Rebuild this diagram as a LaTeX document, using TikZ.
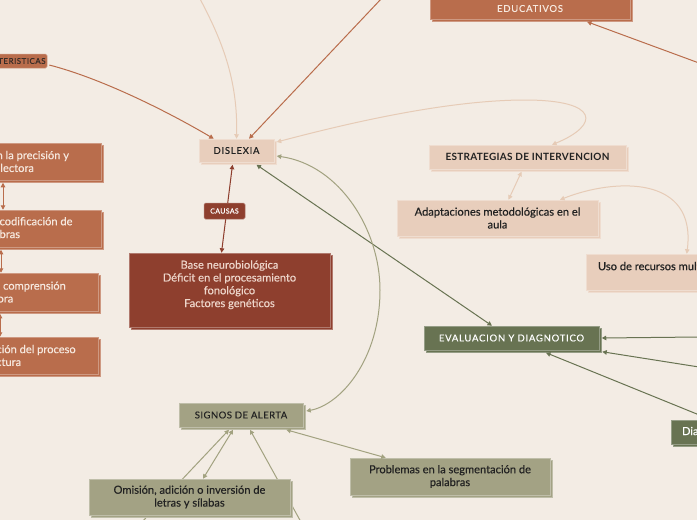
\documentclass[tikz,border=0pt]{standalone}
\usepackage{fontspec}
\setmainfont{Lato}
\usetikzlibrary{arrows.meta,shadows,calc}
\definecolor{bgc}{HTML}{F3ECE4}
\definecolor{peach}{HTML}{E8CEBC}
\definecolor{peachl}{HTML}{E6CBB6}
\definecolor{orng}{HTML}{B96D4C}
\definecolor{dred}{HTML}{8E3F2E}
\definecolor{olv}{HTML}{A3A284}
\definecolor{olvl}{HTML}{A2A280}
\definecolor{dgrn}{HTML}{687352}
\definecolor{txd}{HTML}{222222}
\definecolor{txl}{HTML}{F6E8DE}
\definecolor{txr}{HTML}{EED6CB}
\newcommand\bxt[3]{\parbox[c][#2][c]{#1}{\centering #3}}
\newcommand\hdrf{\fontsize{9.5}{11}\selectfont\addfontfeature{LetterSpace=8,FakeBold=0.3}}
\newcommand\bodyf{\fontsize{11.1}{12.8}\selectfont\addfontfeature{FakeBold=0.4}}
\tikzset{
  bx/.style={fill=#1, draw=#1!70!white, line width=.5pt, inner sep=0pt,
    general shadow={shadow xshift=2.5pt,shadow yshift=-2.5pt,fill=#1,draw=#1!70!white,line width=.5pt}},
  tagbox/.style={fill=#1, draw=#1!70!white, line width=.5pt, inner sep=0pt, rounded corners=1.5pt},
  tip/.tip={Triangle[length=4.5pt,width=4.5pt]},
  arr/.style={-tip},
  darr/.style={tip-tip},
  pl/.style={draw=peachl, line width=1pt},
  orl/.style={draw=orng, line width=1pt},
  gl/.style={draw=dgrn, line width=1pt},
  ol/.style={draw=olvl, line width=1pt},
  rl/.style={draw=dred, line width=1pt},
}
\begin{document}
\begin{tikzpicture}[x=1pt,y=-1pt]
\fill[bgc] (0,0) rectangle (697,520);
\useasboundingbox (0,0) rectangle (697,520);
\clip (0,0) rectangle (697,520);

% free ends
\coordinate (tl) at (199,-3);
\coordinate (to) at (382,-2);
\coordinate (r0) at (699,63);
\coordinate (r1) at (699,337);
\coordinate (r2) at (699,367);
\coordinate (b1) at (142,522);
\coordinate (b2) at (301,522);

% main nodes
\node[bx=peach, text=txd] (dis) at (236.5,150.5) {\bxt{75pt}{23pt}{\hdrf DISLEXIA}};
\node[bx=dred, text=txr] (bas) at (229.5,290) {\parbox[c][74pt][t]{201pt}{\vspace*{7.5pt}\centering\bodyf Base neurobiológica\\Déficit en el procesamiento\\fonológico\\Factores genéticos}};
\draw[rl, darr] ($(dis.south)+(-4,2.5)$) -- ($(bas.north)+(-8,0)$);
\node[tagbox=dred, text=white] (cau) at (224.5,211) {\bxt{41pt}{16pt}{\fontsize{7}{8}\selectfont\addfontfeature{LetterSpace=5,FakeBold=0.3}CAUSAS}};

\node[tagbox=orng, text=txd!85!orng] (car) at (7.5,61) {\bxt{79pt}{14pt}{\fontsize{8}{9}\selectfont\addfontfeature{LetterSpace=6,FakeBold=0.3}CARACTERISTICAS}};

\node[bx=orng, text=txl] (edu) at (530,-0.5) {\parbox[c][39pt][b]{200pt}{\centering\hdrf EDUCATIVOS\par\vspace{7pt}}};

\node[bx=orng, text=txl] (l1) at (-0.5,161.5) {\bxt{203pt}{37pt}{\bodyf Dificultades en la precisión y\\fluidez lectora}};
\node[bx=orng, text=txl] (l2) at (-8,228.5) {\bxt{218pt}{37pt}{\bodyf Dificultad en la decodificación de\\las palabras}};
\node[bx=orng, text=txl] (l3) at (-3.5,292) {\bxt{203pt}{38pt}{\bodyf Dificultad en la comprensión\\lectora}};
\node[bx=orng, text=txl] (l4) at (-8.5,355.5) {\bxt{213pt}{37pt}{\bodyf Escasa automatización del proceso\\de la lectura}};

\node[bx=peach, text=txd] (est) at (527.5,157) {\bxt{197pt}{24pt}{\fontsize{10}{11}\selectfont\bfseries\addfontfeature{LetterSpace=3}ESTRATEGIAS DE INTERVENCION}};
\node[bx=peach, text=txd] (ada) at (497.5,218) {\bxt{201pt}{36pt}{\bodyf Adaptaciones metodológicas en el\\aula}};
\node[bx=peach, text=txd] (uso) at (686,272) {\parbox[c][36pt][t]{200pt}{\vspace*{8pt}\hspace*{12pt}\bodyf Uso de recursos multisensoriales}};

\node[bx=dgrn, text=white] (eva) at (511.5,338) {\bxt{175pt}{24pt}{\hdrf EVALUACION Y DIAGNOTICO}};
\node[bx=dgrn, text=white] (dia) at (711,432) {\bxt{80pt}{24pt}{\bodyf Diagnóstico}};

\node[bx=olv, text=txd] (sig) at (241,415) {\bxt{124pt}{24pt}{\fontsize{9.5}{11}\selectfont\addfontfeature{LetterSpace=5,FakeBold=0.3}SIGNOS DE ALERTA}};
\draw[ol, arr] (b1) -- ($(sig.south)+(-12,2.5)$);
\draw[ol, arr] (b2) -- ($(sig.south)+(9,2.5)$);
\node[bx=olv, text=txd] (omi) at (189.5,497) {\bxt{201pt}{36pt}{\bodyf Omisión, adición o inversión de\\letras y sílabas}};
\node[bx=olv, text=txd] (pro) at (450,476.5) {\bxt{200pt}{37pt}{\bodyf Problemas en la segmentación de\\palabras}};

% connectors
\draw[pl, arr] (tl) .. controls (222,40) and (238,80) .. (dis.north);
\draw[orl, arr] (to) -- ($(dis.north)+(12.5,0)$);
\draw[orl, arr] ($(car.east)+(2,4)$) .. controls (100,78) and (165,110) .. ($(dis.north west)+(15,0)$);
\draw[orl, arr] (r0) -- ($(edu.south)+(57,2.5)$);

\draw[orl, darr] ($(l1.south)+(3.5,2.5)$) -- ($(l2.north)+(11,0)$);
\draw[orl, darr] ($(l2.south)+(9,2.5)$) -- ($(l3.north)+(4.5,0)$);
\draw[orl, darr] ($(l3.south)+(3.5,2.5)$) -- ($(l4.north)+(8.5,0)$);

\draw[pl, darr] ($(est.north)+(24.5,0)$) .. controls (600,125) and (600,100) .. (525,100) .. controls (440,100) and (330,128) .. ($(dis.east)+(2.5,-8.5)$);
\draw[pl, darr] ($(est.south)+(-6,2.5)$) -- ($(ada.north)+(11,0)$);
\draw[pl, darr] ($(ada.north)+(62.5,0)$) .. controls (615,178) and (697,175) .. ($(uso.north west)+(101,0)$);

\draw[gl, darr] ($(dis.south)+(20,2.5)$) -- ($(eva.north)+(-19.5,0)$);
\draw[gl, arr] (r1) -- ($(eva.east)+(2.5,0)$);
\draw[gl, arr] (r2) -- ($(eva.south east)+(3,1.5)$);
\draw[gl, arr] (dia.north) -- ($(eva.south)+(34.5,2.5)$);

\draw[ol, darr] ($(dis.east)+(2.5,5.5)$) .. controls (340,165) and (380,230) .. (380,290) .. controls (380,360) and (340,405) .. ($(sig.east)+(3,-4)$);
\draw[ol, darr] ($(omi.north)+(13.5,0)$) -- ($(sig.south)+(-8,2.5)$);
\draw[ol, darr] ($(sig.south east)+(-17,2.5)$) -- ($(pro.north west)+(36,0)$);
\end{tikzpicture}
\end{document}
